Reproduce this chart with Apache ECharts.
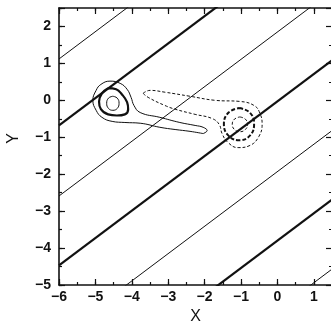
<!DOCTYPE html>
<html>
<head>
<meta charset="utf-8">
<script src="https://cdn.jsdelivr.net/npm/echarts@6/dist/echarts.min.js"></script>
<style>
  html, body { margin: 0; padding: 0; background: #fff; }
  #chart { width: 331px; height: 325px; }
</style>
</head>
<body>
<div id="chart"></div>
<script>
// Axis ranges and tick steps
const xRange = [-6, 1.5];
const yRange = [-5, 2.5];
const majorStep = 1;
const minorStep = 0.5;

// Straight reference lines, given by their end points at the two x limits
const heavyLines = [
  [[-6, -0.68], [1.5, 4.87]],
  [[-6, -4.47], [1.5, 1.08]],
  [[-6, -8.24], [1.5, -2.69]]
];
const lightLines = [
  [[-6, 1.12], [1.5, 6.67]],
  [[-6, -2.59], [1.5, 2.96]],
  [[-6, -6.37], [1.5, -0.82]],
  [[-6, -10.12], [1.5, -4.57]]
];

// Positive lobe (solid contours)
const solidInner = [
  [-4.52, 0.11], [-4.40, 0.06], [-4.35, -0.08], [-4.40, -0.22], [-4.52, -0.27],
  [-4.64, -0.22], [-4.69, -0.08], [-4.64, 0.06], [-4.52, 0.11]
];
const solidMiddle = [
  [-4.65, 0.33], [-4.43, 0.30], [-4.27, 0.16], [-4.13, -0.05], [-4.10, -0.24],
  [-4.19, -0.38], [-4.41, -0.41], [-4.65, -0.38], [-4.85, -0.24], [-4.90, -0.03],
  [-4.82, 0.19], [-4.65, 0.33]
];
const solidOuter = [
  [-2.04, -0.90], [-2.40, -0.84], [-2.81, -0.79], [-3.23, -0.73], [-3.77, -0.62],
  [-4.19, -0.60], [-4.54, -0.57], [-4.82, -0.46], [-4.98, -0.27], [-5.07, 0.00],
  [-4.98, 0.27], [-4.85, 0.43], [-4.60, 0.52], [-4.32, 0.46], [-4.13, 0.30],
  [-4.02, 0.08], [-3.94, -0.14], [-3.77, -0.33], [-3.23, -0.46], [-2.68, -0.60],
  [-2.26, -0.68], [-2.04, -0.73], [-1.93, -0.82], [-2.04, -0.90]
];

// Negative lobe (dashed contours)
const dashedInner = [
  [-1.03, -0.45], [-0.88, -0.51], [-0.82, -0.65], [-0.88, -0.79], [-1.03, -0.85],
  [-1.18, -0.79], [-1.24, -0.65], [-1.18, -0.51], [-1.03, -0.45]
];
const dashedMiddle = [
  [-1.05, -0.21], [-0.76, -0.33], [-0.64, -0.63], [-0.75, -0.95], [-1.05, -1.08],
  [-1.35, -0.95], [-1.47, -0.64], [-1.34, -0.33], [-1.05, -0.21]
];
const dashedOuter = [
  [-3.69, 0.19], [-3.50, 0.27], [-3.09, 0.22], [-2.40, 0.11], [-1.71, 0.00],
  [-1.03, -0.03], [-0.64, -0.14], [-0.48, -0.35], [-0.42, -0.65], [-0.51, -0.98],
  [-0.75, -1.22], [-1.08, -1.28], [-1.36, -1.14], [-1.52, -0.90], [-1.60, -0.65],
  [-1.80, -0.49], [-2.26, -0.38], [-2.81, -0.24], [-3.09, -0.14], [-3.55, 0.08],
  [-3.69, 0.19]
];

const ink = '#111';
const labelFont = 'Liberation Sans, Arial, Helvetica, sans-serif';

function tickText(v) {
  return Number.isInteger(v) ? String(v).replace('-', '\u2212') : '';
}

function makeAxis(range, position, step, tickLen, opts) {
  return Object.assign({
    type: 'value',
    min: range[0],
    max: range[1],
    interval: step,
    position: position,
    splitLine: { show: false },
    axisLine: { show: false, onZero: false },
    axisTick: { show: true, inside: true, length: tickLen, lineStyle: { color: ink, width: 1.2 } },
    axisLabel: { show: false }
  }, opts || {});
}

const frameLine = { show: true, onZero: false, lineStyle: { color: ink, width: 1.6 } };

const xAxes = [
  makeAxis(xRange, 'bottom', majorStep, 6, {
    axisLine: frameLine,
    axisLabel: { show: true, formatter: tickText, color: ink, fontSize: 14, fontWeight: 'bold', fontFamily: labelFont, margin: 5 },
    name: 'X', nameLocation: 'middle', nameGap: 22,
    nameTextStyle: { color: ink, fontSize: 16, fontFamily: labelFont }
  }),
  makeAxis(xRange, 'bottom', minorStep, 3),
  makeAxis(xRange, 'top', majorStep, 6, { axisLine: frameLine }),
  makeAxis(xRange, 'top', minorStep, 3)
];
const yAxes = [
  makeAxis(yRange, 'left', majorStep, 6, {
    axisLine: frameLine,
    axisLabel: { show: true, formatter: tickText, color: ink, fontSize: 14, fontWeight: 'bold', fontFamily: labelFont, margin: 8 },
    name: 'Y', nameLocation: 'middle', nameGap: 37,
    nameTextStyle: { color: ink, fontSize: 16, fontFamily: labelFont, padding: [0, 0, 0, 16] }
  }),
  makeAxis(yRange, 'left', minorStep, 3),
  makeAxis(yRange, 'right', majorStep, 6, { axisLine: frameLine }),
  makeAxis(yRange, 'right', minorStep, 3)
];

function path(points, width, type) {
  return {
    type: 'line',
    data: points,
    xAxisIndex: 0,
    yAxisIndex: 0,
    showSymbol: false,
    symbol: 'none',
    smooth: 0.45,
    clip: true,
    silent: true,
    lineStyle: { color: ink, width: width, type: type || 'solid' },
    z: 3
  };
}

function straight(points, width) {
  return {
    type: 'line',
    data: points,
    xAxisIndex: 0,
    yAxisIndex: 0,
    showSymbol: false,
    symbol: 'none',
    clip: true,
    silent: true,
    lineStyle: { color: ink, width: width },
    z: 2
  };
}

const series = []
  .concat(heavyLines.map(l => straight(l, 2.2)))
  .concat(lightLines.map(l => straight(l, 1)))
  .concat([
    path(solidInner, 1),
    path(solidMiddle, 2.2),
    path(solidOuter, 1),
    path(dashedInner, 1, [3, 2]),
    path(dashedMiddle, 2, [4, 2]),
    path(dashedOuter, 1, [3, 2])
  ]);

const chart = echarts.init(document.getElementById('chart'), null, { renderer: 'canvas' });
chart.setOption({
  animation: false,
  backgroundColor: '#fff',
  grid: { left: 59, top: 8, width: 273, height: 277, containLabel: false, outerBoundsMode: 'none' },
  xAxis: xAxes,
  yAxis: yAxes,
  series: series
});
</script>
</body>
</html>
